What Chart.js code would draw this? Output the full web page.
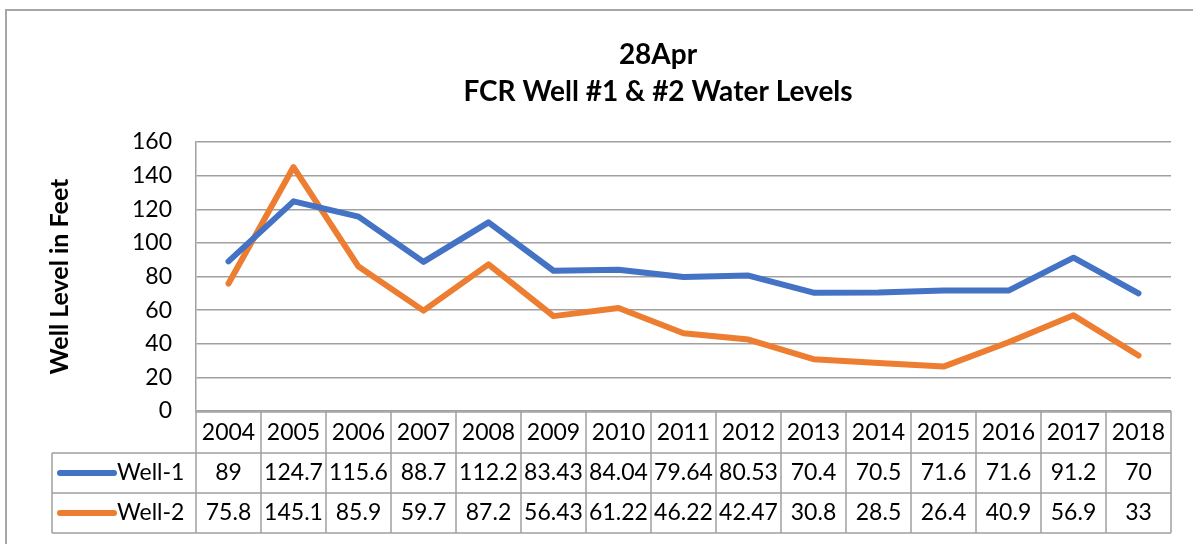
<!DOCTYPE html>
<html>
<head>
<meta charset="utf-8">
<script src="https://cdn.jsdelivr.net/npm/chart.js@4/dist/chart.umd.min.js"></script>
<style>
  html, body { margin: 0; padding: 0; background: #fff; }
  #wrap { position: relative; width: 1193px; height: 544px; }
</style>
</head>
<body>
<div id="wrap"><canvas id="chart" width="1193" height="544"></canvas></div>
<script>
const years = ["2004", "2005", "2006", "2007", "2008", "2009", "2010", "2011", "2012", "2013", "2014", "2015", "2016", "2017", "2018"];
const well1 = [89, 124.7, 115.6, 88.7, 112.2, 83.43, 84.04, 79.64, 80.53, 70.4, 70.5, 71.6, 71.6, 91.2, 70];
const well2 = [75.8, 145.1, 85.9, 59.7, 87.2, 56.43, 61.22, 46.22, 42.47, 30.8, 28.5, 26.4, 40.9, 56.9, 33];
const seriesNames = ["Well-1", "Well-2"];
const seriesColors = ["#4472C4", "#ED7D31"];
const titleLines = ["28Apr", "FCR Well #1 & #2 Water Levels"];
const yTitle = "Well Level in Feet";

const FONT = "Lato, 'Liberation Sans', sans-serif";
const GRID = "#a0a0a0";
const ROW_H = 40;

// outer frame + titles
const framePlugin = {
    id: "frame",
    beforeDraw(chart) {
        const ctx = chart.ctx;
        ctx.save();
        ctx.fillStyle = "#fff";
        ctx.fillRect(0, 0, chart.width, chart.height);
        ctx.strokeStyle = "#a6a6a6";
        ctx.lineWidth = 2;
        ctx.strokeRect(6, 10, chart.width + 20, chart.height + 20);
        ctx.fillStyle = "#000";
        ctx.textAlign = "center";
        ctx.textBaseline = "middle";
        ctx.font = "bold 28px " + FONT;
        ctx.fillText(titleLines[0], 658, 55);
        ctx.fillText(titleLines[1], 658, 92);
        ctx.restore();
    }
};

// data table under the plot, columns from the x scale
const tablePlugin = {
    id: "dataTable",
    afterDraw(chart) {
        const ctx = chart.ctx;
        const x = chart.scales.x;
        const area = chart.chartArea;
        const colW = x.getPixelForValue(1) - x.getPixelForValue(0);
        const top = area.bottom;
        const labelLeft = 52;
        ctx.save();
        ctx.strokeStyle = GRID;
        ctx.lineWidth = 1.5;
        ctx.beginPath();
        // horizontal lines
        ctx.moveTo(area.left, top + 1);
        ctx.lineTo(area.right, top + 1);
        for (let r = 1; r <= 3; r++) {
            const y = top + 2 + r * ROW_H;
            ctx.moveTo(labelLeft, y);
            ctx.lineTo(area.right, y);
        }
        // vertical lines
        for (let i = 0; i <= years.length; i++) {
            const xx = x.getPixelForValue(0) - colW / 2 + i * colW;
            ctx.moveTo(xx, top);
            ctx.lineTo(xx, top + 2 + 3 * ROW_H);
        }
        ctx.moveTo(labelLeft, top + 2 + ROW_H);
        ctx.lineTo(labelLeft, top + 2 + 3 * ROW_H);
        ctx.stroke();

        ctx.fillStyle = "#000";
        ctx.font = "23px " + FONT;
        ctx.textAlign = "center";
        ctx.textBaseline = "middle";
        years.forEach((yr, i) => {
            ctx.fillText(yr, x.getPixelForValue(i), top + 2 + ROW_H / 2);
        });
        [well1, well2].forEach((vals, r) => {
            const cy = top + 2 + ROW_H * (r + 1) + ROW_H / 2;
            vals.forEach((v, i) => {
                ctx.fillText(String(v), x.getPixelForValue(i), cy);
            });
            // legend key
            ctx.save();
            ctx.strokeStyle = seriesColors[r];
            ctx.lineWidth = 6;
            ctx.lineCap = "round";
            ctx.beginPath();
            ctx.moveTo(60, cy);
            ctx.lineTo(114, cy);
            ctx.stroke();
            ctx.restore();
            ctx.textAlign = "left";
            ctx.fillText(seriesNames[r], 117, cy);
            ctx.textAlign = "center";
        });
        ctx.restore();
    }
};

new Chart(document.getElementById("chart"), {
    type: "line",
    data: {
        labels: years,
        datasets: [
            { label: seriesNames[0], data: well1, borderColor: seriesColors[0], backgroundColor: seriesColors[0] },
            { label: seriesNames[1], data: well2, borderColor: seriesColors[1], backgroundColor: seriesColors[1] }
        ]
    },
    options: {
        responsive: false,
        animation: false,
        layout: { padding: { left: 36, top: 142, right: 22, bottom: 0 } },
        elements: {
            line: { borderWidth: 6, tension: 0, borderCapStyle: "round", borderJoinStyle: "round" },
            point: { radius: 0, hoverRadius: 0 }
        },
        plugins: {
            legend: { display: false },
            title: { display: false },
            tooltip: { enabled: false }
        },
        scales: {
            x: {
                offset: true,
                ticks: { display: false },
                grid: { display: false },
                border: { display: false },
                afterFit(scale) { scale.height = 133; }
            },
            y: {
                min: 0,
                max: 160,
                ticks: { stepSize: 20, padding: 24, color: "#000", font: { family: FONT, size: 23 } },
                grid: { color: GRID, lineWidth: 1.5, drawTicks: false },
                border: { display: true, color: GRID, width: 1.5 },
                title: {
                    display: true,
                    text: yTitle,
                    color: "#000",
                    padding: { top: 9, bottom: 0 },
                    font: { family: FONT, size: 25, weight: "bold" }
                },
                afterFit(scale) { scale.width = 196 - 36; }
            }
        }
    },
    plugins: [framePlugin, tablePlugin]
});
</script>
</body>
</html>
